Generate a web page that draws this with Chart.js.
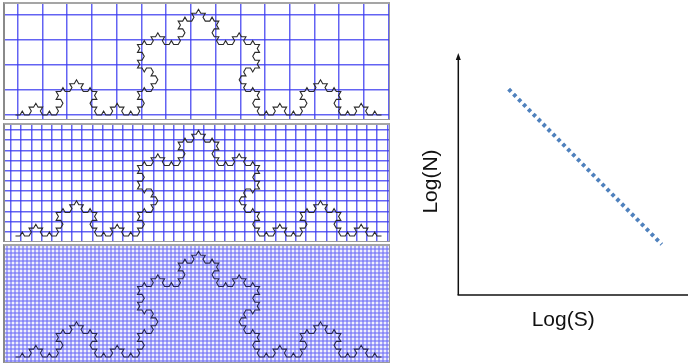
<!DOCTYPE html>
<html><head><meta charset="utf-8">
<script src="https://cdn.jsdelivr.net/npm/chart.js@4.4.0/dist/chart.umd.min.js"></script>
<style>
html,body{margin:0;padding:0;background:#fff;width:688px;height:364px;overflow:hidden;}
.panel{position:absolute;left:3px;border:1px solid #9a9a9a;border-left:2px solid #8a8a8a;border-top:2px solid #a5a5a5;background:#fff;}
.panel canvas{display:block;}
#p3{background:#f0f0fd;}
#right{position:absolute;left:400px;top:0;}
</style></head><body>
<div class="panel" style="top:2px"><canvas id="c1" width="384" height="115"></canvas></div>
<div class="panel" style="top:123px"><canvas id="c2" width="384" height="116"></canvas></div>
<div class="panel" id="p3" style="top:244px"><canvas id="c3" width="384" height="116"></canvas></div>
<canvas id="right" width="288" height="364"></canvas>
<script>
// ---- data ----
const kochLevels = [4, 4, 4];              // Koch curve iteration shown in each panel
const boxSizes = [24.73, 10.17, 4];        // box (grid) size S for each panel, px
const boxSizesY = [25.0, 10.17, 4];
const logS = [2.4, 9.7];                   // regression line endpoints (log S)
const logN = [9.07, 2.23];                 // regression line endpoints (log N)
const axisTitles = ['Log(S)', 'Log(N)'];

// ---- Koch curve (generator: replace segment by 4 segments, middle bump at 60°) ----
function koch(level){
  let pts = [[0,0],[1,0]];
  const c = Math.cos(Math.PI/3), s = Math.sin(Math.PI/3);
  for (let l = 0; l < level; l++){
    const nx = [pts[0]];
    for (let i = 0; i < pts.length - 1; i++){
      const [x1,y1] = pts[i], [x2,y2] = pts[i+1];
      const dx = (x2-x1)/3, dy = (y2-y1)/3;
      const a = [x1+dx, y1+dy], b = [x1+2*dx, y1+2*dy];
      const p = [a[0] + dx*c - dy*s, a[1] + dx*s + dy*c];
      nx.push(a, p, b, [x2,y2]);
    }
    pts = nx;
  }
  return pts.map(([x,y]) => ({x, y}));
}

Chart.defaults.font.family = '"Liberation Sans", Arial, sans-serif';
Chart.defaults.animation = false;

const L = 366;     // curve length in px
const cx0 = 10.5;  // curve start inside panel
const by = 111;    // curve baseline inside panel
const gridStart = [[12.7, 10.3], [6, 5], [2, 3]];
const gridStyle = [
  { color: 'rgba(60,60,240,0.8)', width: 1.5 },
  { color: 'rgba(60,60,240,0.8)', width: 1.5 },
  { color: 'rgba(110,110,245,0.55)', width: 2 }
];

function panel(id, i){
  const cv = document.getElementById(id);
  const W = cv.width, H = cv.height;
  const sx = boxSizes[i], sy = boxSizesY[i];
  const xt = [], yt = [];
  for (let g = gridStart[i][0]; g <= W; g += sx) xt.push((g - cx0)/L);
  for (let g = gridStart[i][1]; g <= H; g += sy) yt.push((by - g)/L);
  const gs = gridStyle[i];
  new Chart(cv, {
    type: 'scatter',
    data: { datasets: [{ data: koch(kochLevels[i]), showLine: true, borderColor: i === 2 ? '#262650' : '#2a2a2a', borderWidth: 1.1, pointRadius: 0, tension: 0 }] },
    options: {
      responsive: false, events: [],
      layout: { padding: 0 },
      plugins: { legend: { display: false }, tooltip: { enabled: false } },
      scales: {
        x: { type: 'linear', min: -cx0/L, max: (W - cx0)/L,
             afterBuildTicks: ax => { ax.ticks = xt.map(v => ({value: v})); },
             ticks: { display: false }, border: { display: false },
             grid: { color: gs.color, lineWidth: gs.width, drawTicks: false } },
        y: { type: 'linear', min: -(H - by)/L, max: by/L,
             afterBuildTicks: ax => { ax.ticks = yt.map(v => ({value: v})); },
             ticks: { display: false }, border: { display: false },
             grid: { color: gs.color, lineWidth: gs.width, drawTicks: false } }
      }
    }
  });
}
panel('c1', 0); panel('c2', 1); panel('c3', 2);

const axesPlugin = {
  id: 'axesArrow',
  afterDraw(chart){
    const {ctx, chartArea: {left, right, top, bottom}} = chart;
    ctx.save();
    ctx.strokeStyle = '#111'; ctx.fillStyle = '#111'; ctx.lineWidth = 1.5;
    ctx.beginPath(); ctx.moveTo(left, bottom); ctx.lineTo(left, top - 10); ctx.stroke();
    ctx.beginPath(); ctx.moveTo(left - 0.75, bottom); ctx.lineTo(chart.width, bottom); ctx.stroke();
    ctx.beginPath(); ctx.moveTo(left, top - 15); ctx.lineTo(left - 2.5, top - 8); ctx.lineTo(left + 2.5, top - 8); ctx.closePath(); ctx.fill();
    ctx.restore();
  }
};

new Chart(document.getElementById('right'), {
  type: 'scatter',
  data: { datasets: [{ data: logS.map((s, k) => ({x: s, y: logN[k]})), showLine: true,
    borderColor: '#4f81bd', borderWidth: 4, borderDash: [3.5, 3.5], pointRadius: 0 }] },
  options: {
    responsive: false, events: [],
    layout: { padding: { left: 19.1, right: 20, top: 68, bottom: 31.4 } },
    plugins: { legend: { display: false }, tooltip: { enabled: false } },
    scales: {
      x: { type: 'linear', min: 0, max: 10, ticks: { display: false },
           grid: { display: false, drawTicks: false }, border: { display: false },
           title: { display: true, text: axisTitles[0], color: '#111', font: { size: 21 }, padding: { top: 12.4, bottom: 0 } } },
      y: { type: 'linear', min: 0, max: 10, ticks: { display: false },
           grid: { display: false, drawTicks: false }, border: { display: false },
           title: { display: true, text: axisTitles[1], color: '#111', font: { size: 21 }, padding: { top: 0, bottom: 14 } } }
    }
  },
  plugins: [axesPlugin]
});
</script>
</body></html>
